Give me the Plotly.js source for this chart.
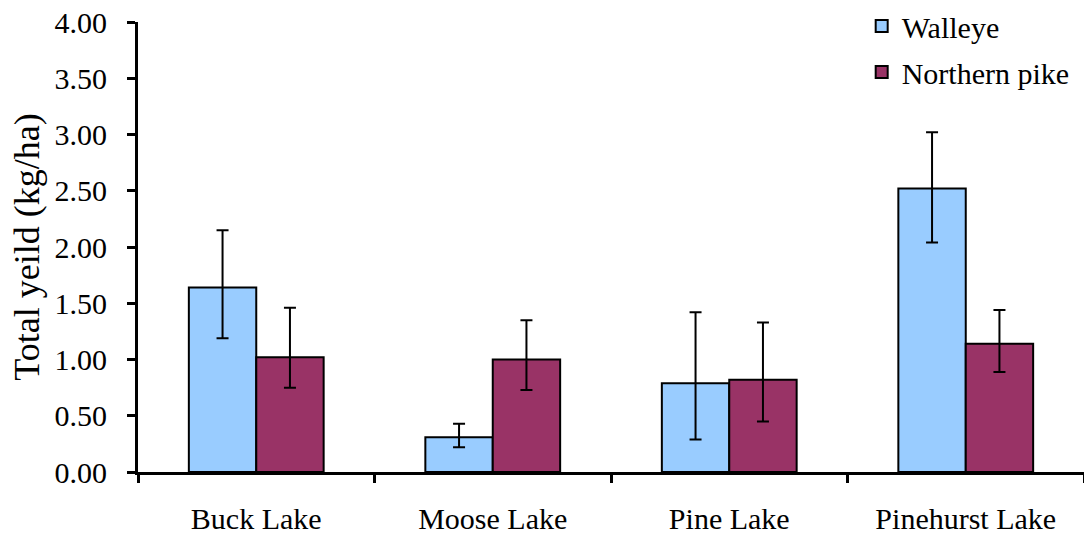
<!DOCTYPE html>
<html>
<head>
<meta charset="utf-8">
<script src="https://cdn.plot.ly/plotly-3.0.1.min.js"></script>
<style>
html,body{margin:0;padding:0;background:#fff;}
#chart{width:1084px;height:535px;}
</style>
</head>
<body>
<div id="chart"></div>
<script>
const categories = ["Buck Lake", "Moose Lake", "Pine Lake", "Pinehurst Lake"];
const walleye = [1.64, 0.31, 0.79, 2.52];
const walleyeErrPlus = [0.51, 0.12, 0.63, 0.50];
const walleyeErrMinus = [0.45, 0.09, 0.50, 0.48];
const pike = [1.02, 1.00, 0.82, 1.14];
const pikeErrPlus = [0.44, 0.35, 0.51, 0.30];
const pikeErrMinus = [0.27, 0.27, 0.37, 0.25];
const yTicks = [0, 0.5, 1, 1.5, 2, 2.5, 3, 3.5, 4];

const FAM = "Liberation Serif";
const font = {family: FAM, color: "#000", size: 30};

const traces = [
  {
    type: "bar", name: "Walleye", x: categories, y: walleye, legendgroup: "a",
    marker: {color: "#99ccff", line: {color: "#000", width: 2}},
    error_y: {type: "data", symmetric: false, array: walleyeErrPlus, arrayminus: walleyeErrMinus,
              color: "#000", thickness: 2, width: 6}
  },
  {
    type: "bar", name: "Northern pike", x: categories, y: pike, legendgroup: "b",
    marker: {color: "#993366", line: {color: "#000", width: 2}},
    error_y: {type: "data", symmetric: false, array: pikeErrPlus, arrayminus: pikeErrMinus,
              color: "#000", thickness: 2, width: 6}
  }
];

const layout = {
  width: 1084, height: 535,
  margin: {l: 138, r: 0, t: 22, b: 63},
  paper_bgcolor: "#fff", plot_bgcolor: "#fff",
  font: font,
  barmode: "group", bargap: 0.43, bargroupgap: 0,
  showlegend: true,
  legend: {x: 0.765, xanchor: "left", y: 1.05, yanchor: "top", font: {family: FAM, size: 30, color: "#000"},
           bgcolor: "rgba(0,0,0,0)", traceorder: "grouped", tracegroupgap: 4, itemwidth: 30},
  xaxis: {
    type: "category", showline: true, linecolor: "#000", linewidth: 3,
    ticks: "outside", tickson: "boundaries", ticklen: 8, tickwidth: 3, tickcolor: "#000",
    showgrid: false, zeroline: false, ticklabelstandoff: 18,
    tickfont: {family: FAM, size: 30, color: "#000"}
  },
  yaxis: {
    range: [0, 4], tickvals: yTicks, tickformat: ".2f",
    showline: true, linecolor: "#000", linewidth: 3,
    ticks: "outside", ticklen: 8, tickwidth: 3, tickcolor: "#000",
    showgrid: false, zeroline: false, ticklabelstandoff: 14,
    tickfont: {family: FAM, size: 30, color: "#000"},
    title: {text: "Total yeild (kg/ha)", font: {family: FAM, size: 36, color: "#000"}, standoff: 4}
  }
};

Plotly.newPlot("chart", traces, layout, {displayModeBar: false, staticPlot: true});
</script>
</body>
</html>
